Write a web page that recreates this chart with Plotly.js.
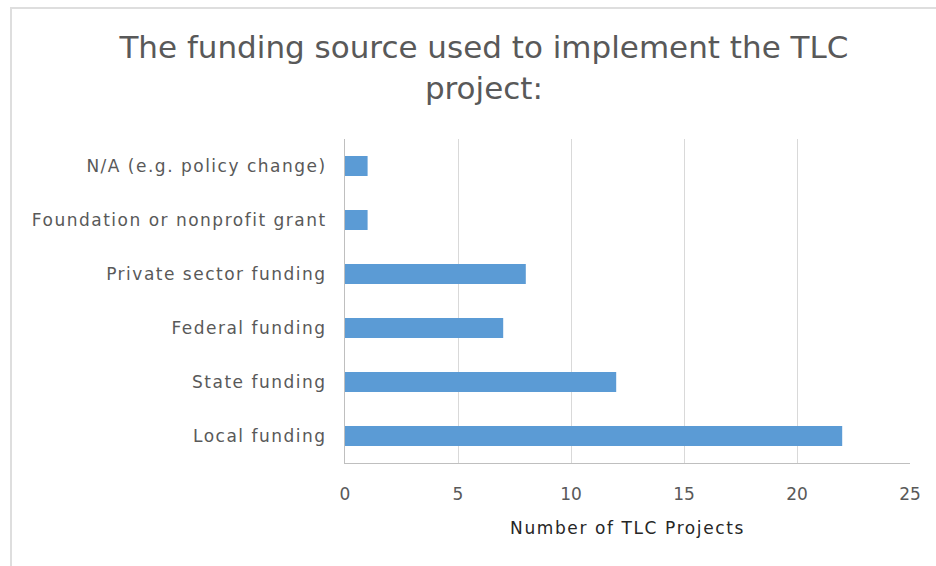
<!DOCTYPE html>
<html><head><meta charset="utf-8">
<script src="https://cdn.plot.ly/plotly-3.0.1.min.js"></script>
<style>
html,body{margin:0;padding:0;background:#fff;}
#frame{position:absolute;left:10px;top:7px;width:940px;height:600px;border-left:2px solid #dedede;border-top:2px solid #dedede;}
#chart{position:absolute;left:0;top:0;width:936px;height:566px;}
.ytick text{letter-spacing:1.5px;}
.xtitle{letter-spacing:1.6px;}
</style></head>
<body>
<div id="frame"></div>
<div id="chart"></div>
<script>
const categories = ['Local funding','State funding','Federal funding','Private sector funding','Foundation or nonprofit grant','N/A (e.g. policy change)'];
const projectCounts = [22, 12, 7, 8, 1, 1];
const xTicks = [0, 5, 10, 15, 20, 25];

const trace = {
  type: 'bar', orientation: 'h',
  x: projectCounts, y: categories,
  marker: {color: '#5B9BD5'},
  hoverinfo: 'x+y'
};
const layout = {
  width: 936, height: 566,
  paper_bgcolor: 'rgba(0,0,0,0)', plot_bgcolor: 'rgba(0,0,0,0)',
  margin: {l: 345, r: 26, t: 139, b: 103},
  bargap: 0.63,
  showlegend: false,
  font: {family: 'DejaVu Sans, sans-serif', color: '#595959'},
  title: {text: 'The funding source used to implement the TLC<br>project:', x: 0.517, xanchor: 'center', y: 0.897, yanchor: 'top',
          font: {size: 31, color: '#595959', family: 'DejaVu Sans, sans-serif'}},
  xaxis: {range: [0, 25], tickvals: xTicks, showgrid: true, gridcolor: '#d9d9d9', gridwidth: 1,
          zeroline: false, showline: true, linecolor: '#bfbfbf', linewidth: 1,
          ticks: '', ticklabelstandoff: 16, tickfont: {size: 17, color: '#595959'},
          title: {text: 'Number of TLC Projects', standoff: 18, font: {size: 17, color: '#262626'}}},
  yaxis: {type: 'category', categoryorder: 'array', categoryarray: categories,
          showgrid: false, zeroline: false, showline: true, linecolor: '#bfbfbf', linewidth: 1,
          ticks: '', ticklabelstandoff: 14, tickfont: {size: 17, color: '#595959'}}
};
Plotly.newPlot('chart', [trace], layout, {displayModeBar: false, staticPlot: true});
</script>
</body></html>
